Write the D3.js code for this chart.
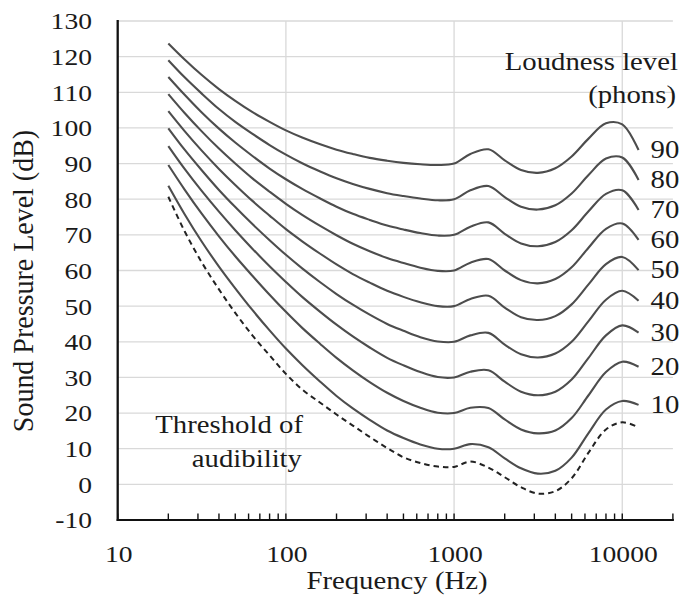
<!DOCTYPE html>
<html>
<head>
<meta charset="utf-8">
<script src="https://cdn.jsdelivr.net/npm/d3@7"></script>
<style>
  body { margin: 0; background: #fff; }
  text { font-family: "Liberation Serif", "Times New Roman", Times, serif; fill: #1a1a1a; }
</style>
</head>
<body>
<script>
// equal-loudness contours, values (dB SPL)
var freqs = [20, 25, 31.5, 40, 50, 63, 80, 100, 125, 160, 200, 250, 315, 400, 500, 630, 800,
             1000, 1250, 1600, 2000, 2500, 3150, 4000, 5000, 6300, 8000, 10000, 12500];

var phon10 = [83.8, 75.8, 68.2, 61.1, 55.0, 49.0, 43.2, 38.1, 33.5, 28.8, 24.8, 21.3, 18.1, 15.1, 13.0, 11.2, 10.0, 10.0, 11.3, 10.4, 7.3, 4.5, 3.0, 3.8, 7.5, 14.4, 21.0, 23.4, 22.3];
var phon20 = [89.6, 82.7, 76.0, 69.6, 64.0, 58.6, 53.2, 48.4, 43.9, 39.4, 35.5, 32.0, 28.7, 25.7, 23.4, 21.5, 20.1, 20.0, 21.5, 21.4, 18.2, 15.4, 14.3, 15.1, 18.6, 25.0, 31.5, 34.4, 33.0];
var phon30 = [94.9, 88.5, 82.4, 76.5, 71.3, 66.2, 61.2, 56.8, 52.6, 48.4, 44.8, 41.5, 38.4, 35.5, 33.4, 31.5, 30.1, 30.0, 31.6, 32.0, 28.8, 26.0, 25.0, 26.0, 29.4, 35.5, 41.8, 44.6, 42.6];
var phon40 = [99.9, 93.9, 88.2, 82.6, 77.8, 73.1, 68.5, 64.4, 60.6, 56.7, 53.4, 50.4, 47.6, 45.0, 43.1, 41.3, 40.1, 40.0, 41.8, 42.5, 39.2, 36.5, 35.6, 36.7, 40.0, 45.8, 51.8, 54.3, 51.5];
var phon50 = [104.7, 99.1, 93.7, 88.5, 84.0, 79.6, 75.4, 71.6, 68.2, 64.7, 61.7, 59.0, 56.6, 54.3, 52.6, 51.1, 50.0, 50.0, 52.0, 52.9, 49.6, 46.9, 46.1, 47.2, 50.5, 56.1, 61.8, 63.8, 60.1];
var phon60 = [109.5, 104.2, 99.1, 94.2, 90.0, 85.9, 82.1, 78.7, 75.6, 72.5, 69.9, 67.5, 65.4, 63.5, 62.1, 60.8, 59.9, 60.0, 62.2, 63.2, 60.0, 57.3, 56.4, 57.6, 60.9, 66.4, 71.7, 73.2, 68.6];
var phon70 = [114.3, 109.3, 104.4, 99.8, 95.9, 92.2, 88.6, 85.6, 82.9, 80.2, 77.9, 75.9, 74.2, 72.6, 71.5, 70.5, 69.8, 70.0, 72.3, 73.5, 70.3, 67.6, 66.8, 68.0, 71.3, 76.6, 81.5, 82.5, 77.0];
var phon80 = [119.0, 114.2, 109.7, 105.3, 101.7, 98.4, 95.2, 92.5, 90.1, 87.8, 85.9, 84.3, 82.9, 81.7, 80.9, 80.2, 79.7, 80.0, 82.5, 83.7, 80.6, 77.9, 77.1, 78.3, 81.6, 86.8, 91.4, 91.7, 85.4];
var phon90 = [123.7, 119.2, 114.9, 110.9, 107.6, 104.5, 101.7, 99.3, 97.3, 95.4, 93.9, 92.7, 91.6, 90.8, 90.2, 89.8, 89.6, 90.0, 92.7, 94.0, 90.9, 88.2, 87.4, 88.7, 92.0, 97.0, 101.3, 101.0, 93.8];

var threshold = [80.7, 71.0, 62.4, 54.7, 48.1, 41.9, 36.2, 31.0, 26.6, 22.9, 19.6, 16.5, 13.3, 10.2, 7.6, 6.0, 5.0, 4.9, 6.4, 4.7, 2.0, -0.8, -2.6, -1.9, 1.7, 8.9, 15.4, 17.4, 16.0];

var contours = [phon10, phon20, phon30, phon40, phon50, phon60, phon70, phon80, phon90];
var phonLabels = ["10", "20", "30", "40", "50", "60", "70", "80", "90"];

var xMajor = [10, 100, 1000, 10000];
var yTicks = [-10, 0, 10, 20, 30, 40, 50, 60, 70, 80, 90, 100, 110, 120, 130];

var svg = d3.select("body").append("svg")
    .attr("width", 680)
    .attr("height", 600);

var x = d3.scaleLog().domain([10, 20000]).range([117.7, 672.9]);
var y = d3.scaleLinear().domain([-10, 130]).range([520, 21]);

// text in the source is a bit wider than it is tall
function label(str, px, py, anchor, size) {
    return svg.append("text")
        .attr("transform", "translate(" + px + "," + py + ") scale(1.15,1)")
        .attr("text-anchor", anchor)
        .style("font-size", size + "px")
        .text(str);
}

// gridlines
svg.append("g").selectAll("line")
    .data(yTicks.filter(function(d) { return d > -10; }))
    .enter().append("line")
    .attr("x1", x(10)).attr("x2", x(20000))
    .attr("y1", function(d) { return y(d); })
    .attr("y2", function(d) { return y(d); })
    .attr("stroke", "#d9d9d9")
    .attr("stroke-width", 1.3);

svg.append("g").selectAll("line")
    .data(xMajor.slice(1))
    .enter().append("line")
    .attr("x1", function(d) { return x(d); })
    .attr("x2", function(d) { return x(d); })
    .attr("y1", y(130)).attr("y2", y(-10))
    .attr("stroke", "#d9d9d9")
    .attr("stroke-width", 1.3);

// minor ticks, pointing up into the plot
svg.append("g").selectAll("line")
    .data(x.ticks())
    .enter().append("line")
    .attr("x1", function(d) { return x(d); })
    .attr("x2", function(d) { return x(d); })
    .attr("y1", y(-10)).attr("y2", y(-10) - 6.5)
    .attr("stroke", "#111")
    .attr("stroke-width", 1.4);

// axes lines
svg.append("line")
    .attr("x1", x(10)).attr("x2", x(10))
    .attr("y1", y(130) - 1).attr("y2", y(-10) + 1)
    .attr("stroke", "#111").attr("stroke-width", 2.3);
svg.append("line")
    .attr("x1", x(10) - 1).attr("x2", x(20000) + 1)
    .attr("y1", y(-10)).attr("y2", y(-10))
    .attr("stroke", "#111").attr("stroke-width", 2.2);

// tick labels
yTicks.forEach(function(d) {
    label(d, 92, y(d), "end", 24).attr("dy", "0.35em");
});
xMajor.forEach(function(d) {
    label(d, x(d) + 1, 562, "middle", 24);
});

// curves
var line = d3.line()
    .x(function(d) { return x(d[0]); })
    .y(function(d) { return y(d[1]); })
    .curve(d3.curveCatmullRom);

contours.forEach(function(vals, i) {
    var pts = freqs.map(function(f, j) { return [f, vals[j]]; });
    svg.append("path")
        .attr("d", line(pts))
        .attr("fill", "none")
        .attr("stroke", "#4d4d4d")
        .attr("stroke-width", 2.1);
    label(phonLabels[i], x(12500) + 12, y(vals[vals.length - 1]) + 8, "start", 25);
});

svg.append("path")
    .attr("d", line(freqs.map(function(f, j) { return [f, threshold[j]]; })))
    .attr("fill", "none")
    .attr("stroke", "#222")
    .attr("stroke-width", 2)
    .attr("stroke-dasharray", "5.5,4");

// annotations
label("Loudness level", 678, 70, "end", 25);
label("(phons)", 676, 103, "end", 25);
label("Threshold of", 303, 433, "end", 25);
label("audibility", 302, 467, "end", 25);

// axis titles
label("Frequency (Hz)", 397, 589, "middle", 25);
svg.append("text")
    .attr("transform", "translate(33,281) scale(1.08,1) rotate(-90)")
    .attr("text-anchor", "middle")
    .style("font-size", "28px")
    .text("Sound Pressure Level (dB)");
</script>
</body>
</html>
